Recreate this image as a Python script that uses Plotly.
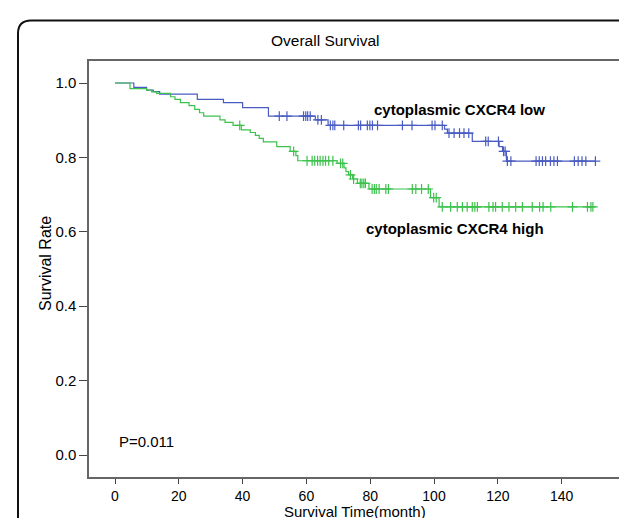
import numpy as np
import plotly.graph_objects as go

# ---- data ----
low_event_t = [0, 5.9, 9.9, 12.0, 14.0, 25.8, 34.0, 40.0, 48.1, 62.8, 66.8, 103.3, 104.2, 112.0, 120.4, 121.5, 122.7, 150.6]
low_surv    = [1.0, 0.988, 0.981, 0.977, 0.970, 0.956, 0.947, 0.934, 0.911, 0.901, 0.886, 0.876, 0.865, 0.843, 0.829, 0.816, 0.790, 0.790]
low_censor_t = [51.5, 53.9, 59.1, 59.8, 60.4, 61.2, 63.6, 64.7, 67.5, 68.3, 68.9, 71.7, 76.3, 77.0,
                79.1, 79.9, 80.7, 82.3, 90.1, 93.1, 99.4, 100.3, 102.6, 104.7, 106.3, 108.0, 109.4,
                110.9, 116.2, 117.0, 120.2, 121.8, 122.3, 123.0, 124.1, 132.0, 133.0, 134.0, 135.0,
                136.5, 137.6, 138.7, 144.0, 145.2, 146.4, 147.6, 150.6]

high_event_t = [0, 4.7, 9.9, 11.5, 13.0, 17.4, 18.8, 20.5, 23.2, 25.0, 26.5, 27.8, 32.9, 34.5, 37.0,
                39.6, 42.4, 44.0, 45.2, 46.5, 50.7, 54.9, 56.7, 57.3, 69.6, 71.8, 72.4, 73.2, 74.5,
                76.0, 79.6, 98.9, 101.6, 149.8]
high_surv    = [1.0, 0.985, 0.981, 0.976, 0.972, 0.963, 0.956, 0.947, 0.939, 0.929, 0.920, 0.911,
                0.901, 0.894, 0.886, 0.874, 0.867, 0.859, 0.851, 0.842, 0.829, 0.816, 0.805, 0.791,
                0.784, 0.772, 0.762, 0.753, 0.742, 0.730, 0.715, 0.692, 0.667, 0.667]
high_censor_t = [39.1, 56.0, 60.2, 61.8, 62.6, 63.5, 64.3, 65.2, 66.0, 67.0, 68.3, 70.7, 71.4, 73.8,
                 74.8, 76.9, 77.4, 78.0, 78.5, 80.6, 81.3, 81.9, 82.8, 84.9, 85.7, 93.2, 94.3, 96.1,
                 98.2, 99.9, 100.7, 102.6, 105.2, 107.3, 108.9, 110.4, 112.0, 112.8, 113.6, 117.2,
                 118.5, 119.3, 121.4, 123.5, 125.6, 127.7, 130.8, 133.1, 134.2, 136.6, 143.4, 148.1,
                 149.2, 149.8]

x_ticks = [0, 20, 40, 60, 80, 100, 120, 140]
y_ticks = [0.0, 0.2, 0.4, 0.6, 0.8, 1.0]
y_tick_text = ["0.0", "0.2", "0.4", "0.6", "0.8", "1.0"]

BLUE = "#4a5cc2"
GREEN = "#3cc24c"
FONT = "Liberation Sans, Arial, sans-serif"


def step_lookup(times, surv, t):
    idx = np.searchsorted(np.array(times), t, side="right") - 1
    return [surv[i] for i in idx]


fig = go.Figure()
for times, surv, ct, col in [(low_event_t, low_surv, low_censor_t, BLUE),
                             (high_event_t, high_surv, high_censor_t, GREEN)]:
    fig.add_trace(go.Scatter(x=times, y=surv, mode="lines", line=dict(color=col, width=1.2, shape="hv"),
                             showlegend=False, hoverinfo="skip"))
    fig.add_trace(go.Scatter(x=ct, y=step_lookup(times, surv, ct), mode="markers",
                             marker=dict(symbol="cross-thin", size=7, line=dict(color=col, width=1.2)),
                             showlegend=False, hoverinfo="skip"))

# pixel geometry
W, H = 627, 518
L, R, T, B = 81, 612, 53, 469
pw, ph = R - L, B - T
X0PX, XSCALE = 107, 3.19     # pixel of x=0, px per month
Y1PX, Y0PX = 75, 447         # pixel of y=1.0 and y=0.0


def px(x):
    return (x - L) / pw


def py(y):
    return (B - y) / ph


# outer rounded border
lft, top, rgt, bot, r = 10, 12.5, 626, 530, 13
path = (f"M {px(lft)},{py(bot)} L {px(lft)},{py(top + r)} Q {px(lft)},{py(top)} {px(lft + r)},{py(top)} "
        f"L {px(rgt - r)},{py(top)} Q {px(rgt)},{py(top)} {px(rgt)},{py(top + r)} L {px(rgt)},{py(bot)}")
fig.add_shape(type="path", path=path, xref="paper", yref="paper", line=dict(color="#111", width=2))


def text(t, x, y, size, bold=False, angle=0, xanchor="center"):
    fig.add_annotation(text=f"<b>{t}</b>" if bold else t, x=px(x), y=py(y), xref="paper", yref="paper",
                       xanchor=xanchor, yanchor="middle", textangle=angle, showarrow=False,
                       font=dict(family=FONT, size=size, color="#000"))


text("cytoplasmic CXCR4 low", 451.5, 101.5, 15, bold=True)
text("cytoplasmic CXCR4 high", 447, 220, 15, bold=True)
text("P=0.011", 109, 433, 15, xanchor="left")
text("Overall Survival", 317, 32, 15.5)
text("Survival Rate", 37, 256, 16, angle=-90)
text("Survival Time(month)", 347, 503, 15)

x0 = -(X0PX - L) / XSCALE
x1 = (R - X0PX) / XSCALE
yscale = Y0PX - Y1PX
y0 = -(B - Y0PX) / yscale
y1 = 1 + (Y1PX - T) / yscale

fig.update_layout(
    width=W, height=H, margin=dict(l=L, r=W - R, t=T, b=H - B),
    paper_bgcolor="white", plot_bgcolor="white",
    xaxis=dict(range=[x0, x1], tickvals=x_ticks, ticks="outside", ticklen=5, tickcolor="#444",
               showline=True, linecolor="#666", linewidth=1.5, mirror=True, showgrid=False, zeroline=False,
               tickfont=dict(family=FONT, size=14, color="#000")),
    yaxis=dict(range=[y0, y1], tickvals=y_ticks, ticktext=y_tick_text, ticks="outside", ticklen=8,
               tickcolor="#444", showline=True, linecolor="#666", linewidth=1.5, mirror=True,
               showgrid=False, zeroline=False, tickfont=dict(family=FONT, size=15, color="#000")),
)

fig.write_html("out.html")
